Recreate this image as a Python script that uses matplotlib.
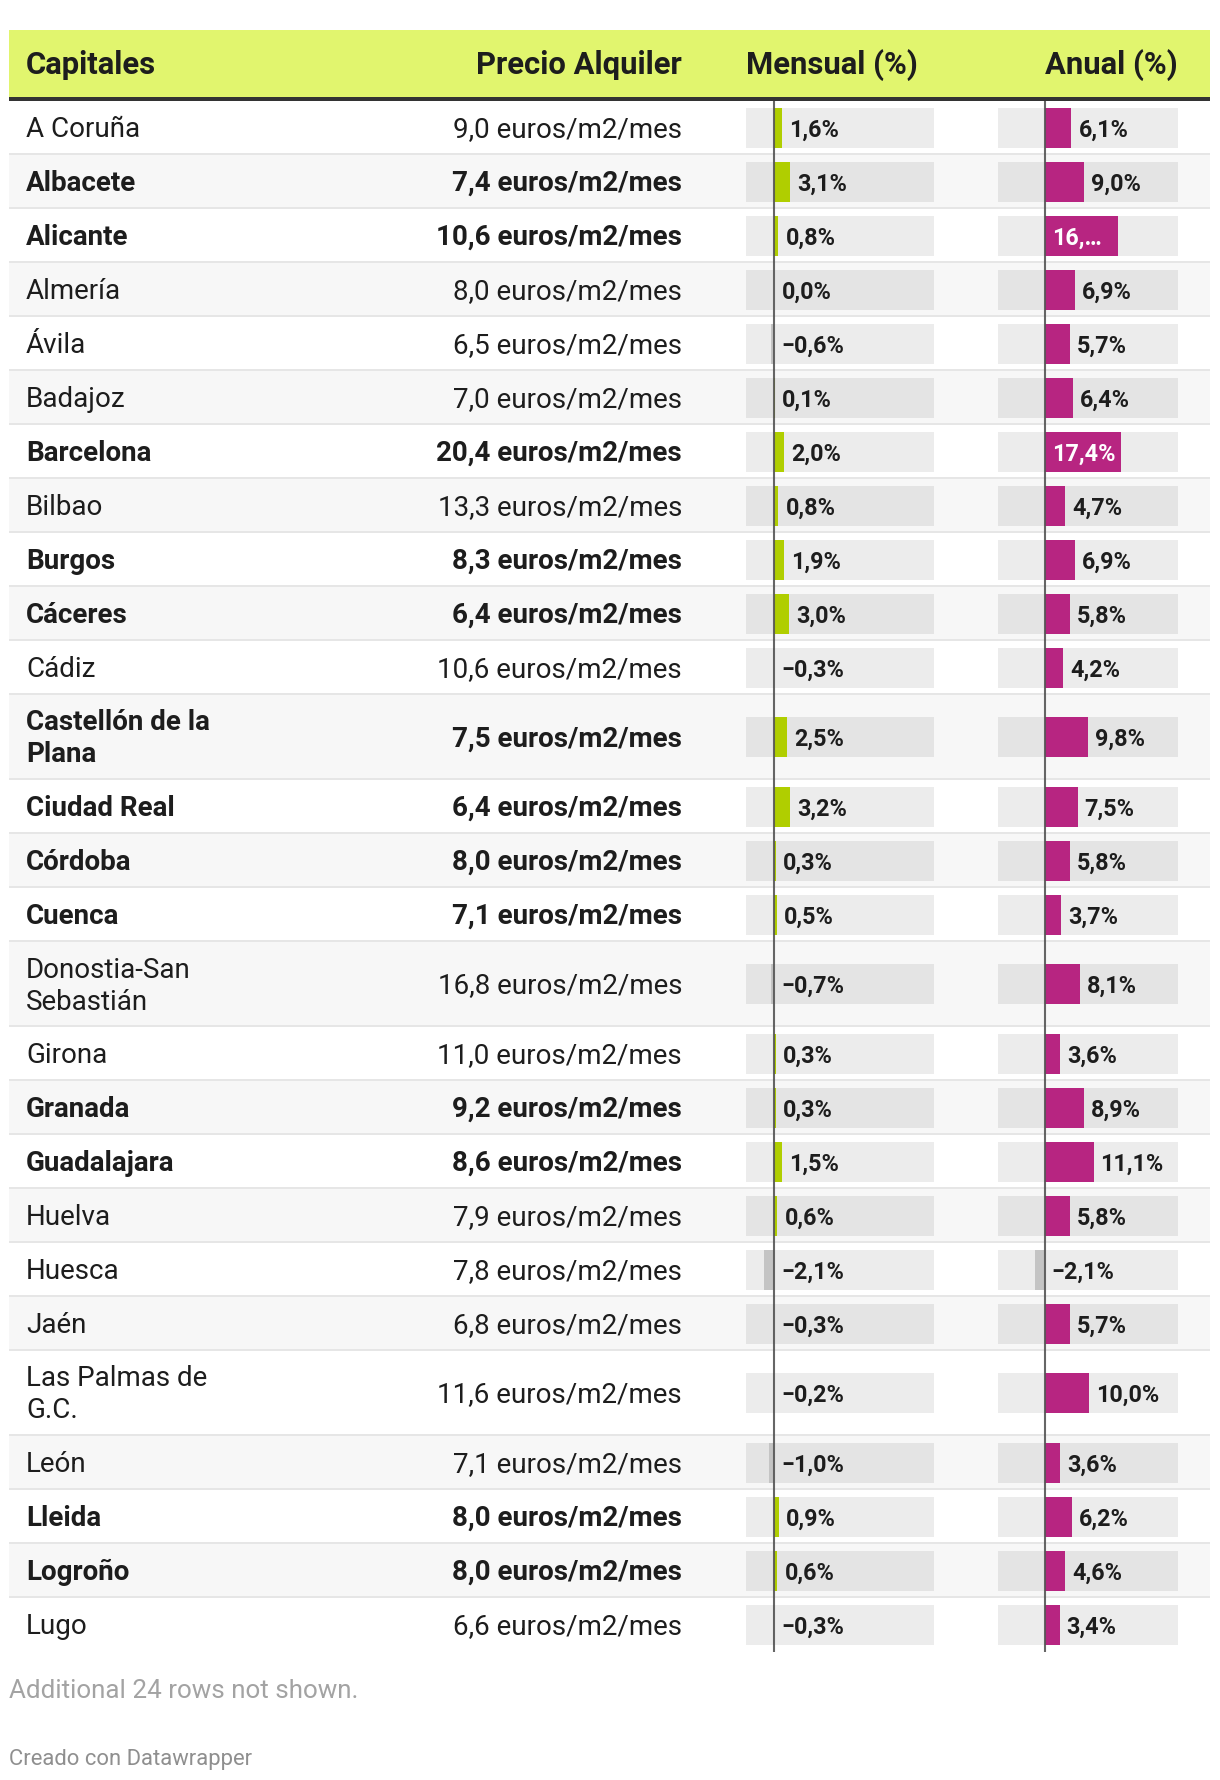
import matplotlib
matplotlib.use("Agg")
import matplotlib.pyplot as plt
from matplotlib.patches import Rectangle

# ---------------- data ----------------
cities = ["A Coruña", "Albacete", "Alicante", "Almería", "Ávila", "Badajoz",
          "Barcelona", "Bilbao", "Burgos", "Cáceres", "Cádiz",
          "Castellón de la\nPlana", "Ciudad Real", "Córdoba", "Cuenca",
          "Donostia-San\nSebastián", "Girona", "Granada", "Guadalajara",
          "Huelva", "Huesca", "Jaén", "Las Palmas de\nG.C.", "León",
          "Lleida", "Logroño", "Lugo"]
precio = [9.0, 7.4, 10.6, 8.0, 6.5, 7.0, 20.4, 13.3, 8.3, 6.4, 10.6, 7.5,
          6.4, 8.0, 7.1, 16.8, 11.0, 9.2, 8.6, 7.9, 7.8, 6.8, 11.6, 7.1,
          8.0, 8.0, 6.6]
mensual = [1.6, 3.1, 0.8, 0.0, -0.6, 0.1, 2.0, 0.8, 1.9, 3.0, -0.3, 2.5,
           3.2, 0.3, 0.5, -0.7, 0.3, 0.3, 1.5, 0.6, -2.1, -0.3, -0.2, -1.0,
           0.9, 0.6, -0.3]
anual = [6.1, 9.0, 16.6, 6.9, 5.7, 6.4, 17.4, 4.7, 6.9, 5.8, 4.2, 9.8,
         7.5, 5.8, 3.7, 8.1, 3.6, 8.9, 11.1, 5.8, -2.1, 5.7, 10.0, 3.6,
         6.2, 4.6, 3.4]
destacado = [False, True, True, False, False, False, True, False, True, True,
             False, True, True, True, True, False, False, True, True, False,
             False, False, False, False, True, True, False]
headers = ["Capitales", "Precio Alquiler", "Mensual (%)", "Anual (%)"]
nota = "Additional 24 rows not shown."
credito = "Creado con Datawrapper"

# ---------------- style ----------------
W, H = 1220, 1780
FONT = "Roboto"
YELLOW = "#e1f56e"
GREEN = "#b0ce00"
MAGENTA = "#b72581"
NEG = "#c4c4c4"
TXT = "#1d1d1d"

TL, TR = 9, 1210
HEAD_TOP, HEAD_BOT = 30, 97
ROW0 = 101
RH1, RH2 = 54, 85
NAME_X, PRICE_X = 26, 682
M_L, M_R = 746, 934
A_L, A_R = 998, 1178
M_LIM = (-5.7, 31.9)
A_LIM = (-10.6, 30.3)
BAR_H = 40
ROW_FS = 20
LAB_FS = 16.8

def fmt(v, dec=1):
    s = f"{abs(v):.{dec}f}".replace(".", ",")
    return ("−" if v < 0 else "") + s

fig = plt.figure(figsize=(W / 100, H / 100), dpi=100)
ax = fig.add_axes([0, 0, 1, 1])
ax.set_xlim(0, W)
ax.set_ylim(H, 0)
ax.axis("off")

# header
ax.add_patch(Rectangle((TL, HEAD_TOP), TR - TL, HEAD_BOT - HEAD_TOP,
                       color=YELLOW, lw=0))
ax.add_patch(Rectangle((TL, HEAD_BOT), TR - TL, 4, color="#333333", lw=0))
hb = 74
hkw = dict(fontsize=22.3, fontweight="bold", family=FONT, color=TXT, va="baseline")
ax.text(NAME_X, hb, headers[0], ha="left", **hkw)
ax.text(PRICE_X, hb, headers[1], ha="right", **hkw)
ax.text(M_L, hb, headers[2], ha="left", **hkw)
ax.text(A_R, hb, headers[3], ha="right", **hkw)

# rows
heights = [RH2 if "\n" in c else RH1 for c in cities]
tops = []
t = ROW0
for h in heights:
    tops.append(t)
    t += h
bottom = t
centers = [tp + h / 2 for tp, h in zip(tops, heights)]

for i, (c, p, b) in enumerate(zip(cities, precio, destacado)):
    tp, h, cy = tops[i], heights[i], centers[i]
    ax.add_patch(Rectangle((TL, tp), TR - TL, h,
                           color="#ffffff" if i % 2 == 0 else "#f7f7f7", lw=0, zorder=0))
    if i < len(cities) - 1:
        ax.add_patch(Rectangle((TL, tp + h - 2.5), TR - TL, 2.5,
                               color="#e6e6e6", lw=0, zorder=0.5))
    cy_t = cy - 1
    w = "bold" if b else "normal"
    kw = dict(fontsize=ROW_FS, fontweight=w, family=FONT, color=TXT, va="baseline")
    lines = c.split("\n")
    n = len(lines)
    for k, ln in enumerate(lines):
        ly = cy_t + (k - (n - 1) / 2) * 32 + 10
        ax.text(NAME_X, ly, ln, ha="left", **kw)
    ax.text(PRICE_X, cy_t + 10, f"{fmt(p)} euros/m2/mes", ha="right", **kw)

# bar columns
def bar_axes(l, r, lim):
    a = fig.add_axes([l / W, 1 - bottom / H, (r - l) / W, (bottom - ROW0) / H])
    a.set_xlim(*lim)
    a.set_ylim(bottom, ROW0)
    a.axis("off")
    a.patch.set_alpha(0)
    return a

ax_m = bar_axes(M_L, M_R, M_LIM)
ax_a = bar_axes(A_L, A_R, A_LIM)
fig.canvas.draw()
renderer = fig.canvas.get_renderer()

def draw_bars(a, vals, color, lim, right_px, left_px):
    a.barh(centers, [lim[1] - lim[0]] * len(vals), left=lim[0], height=BAR_H,
           color="black", alpha=0.075, lw=0, zorder=1)
    cols = [color if v >= 0 else NEG for v in vals]
    a.barh(centers, vals, height=BAR_H, color=cols, lw=0, zorder=2)
    a.axvline(0, color="#555555", lw=1.5, alpha=0.9, zorder=3)
    pxu = (right_px - left_px) / (lim[1] - lim[0])
    zero_px = left_px + (0 - lim[0]) * pxu
    tkw = dict(textcoords="offset pixels", ha="left", va="baseline",
               fontsize=LAB_FS, fontweight="bold", family=FONT, zorder=4)
    for v, cy in zip(vals, centers):
        lab = fmt(v) + "%"
        end_px = zero_px + max(v, 0) * pxu
        tx = a.annotate(lab, xy=(max(v, 0), cy), xytext=(7, -8.5),
                        color=TXT, **tkw)
        wpx = tx.get_window_extent(renderer).width
        if end_px + 7 + wpx > right_px:
            tx.remove()
            bar_px = max(v, 0) * pxu
            ti = a.annotate(lab, xy=(0, cy), xytext=(7, -8.5), color="white", **tkw)
            if ti.get_window_extent(renderer).width + 13 > bar_px:
                head = lab.split(",")[0]
                ti.set_text(head + ",…")

draw_bars(ax_m, mensual, GREEN, M_LIM, M_R, M_L)
draw_bars(ax_a, anual, MAGENTA, A_LIM, A_R, A_L)

# footer
ax.text(9, 1698, nota, fontsize=18.7, family=FONT, color="#a3a3a3",
        ha="left", va="baseline")
ax.text(9, 1765, credito, fontsize=15.8, family=FONT, color="#8f8f8f",
        ha="left", va="baseline")

fig.savefig("out.png", dpi=100)
